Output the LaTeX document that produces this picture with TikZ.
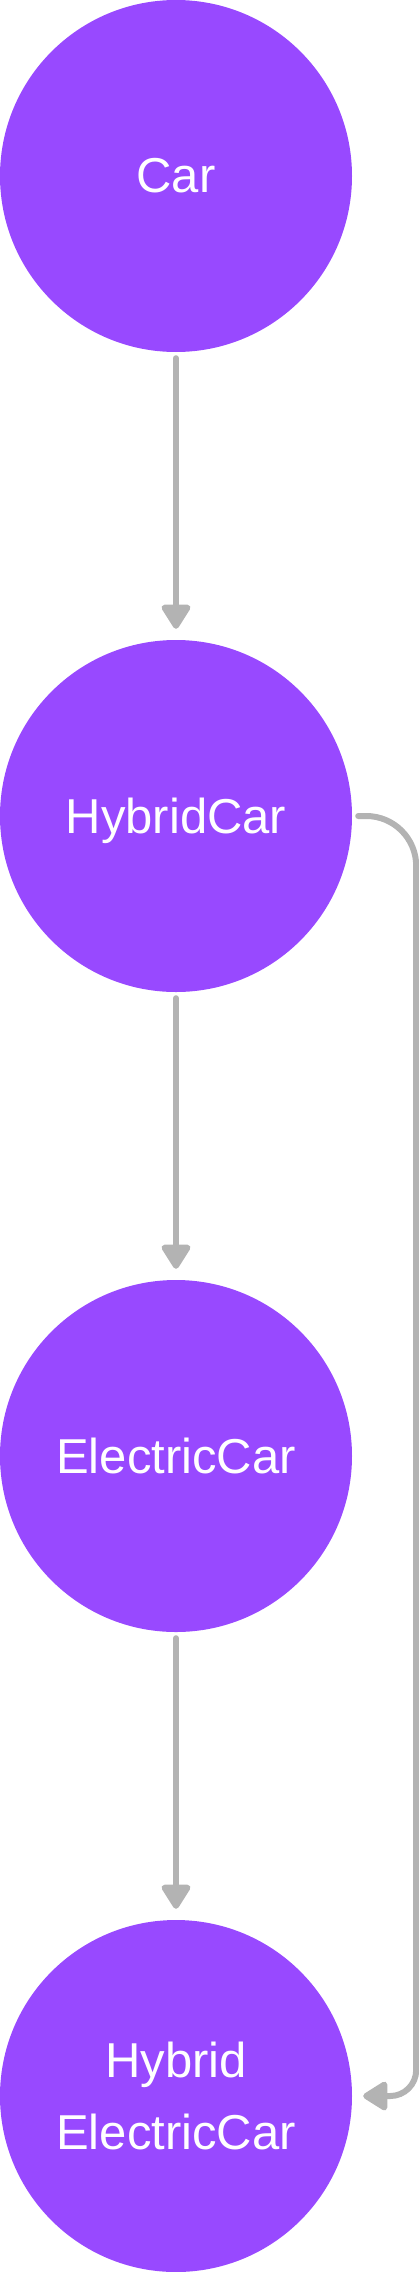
\documentclass[tikz,border=0pt]{standalone}
\usepackage{fontspec}
\setmainfont{Liberation Sans}
\usetikzlibrary{positioning,arrows.meta}
\definecolor{carpurple}{RGB}{152,73,255}
\definecolor{linkgray}{RGB}{179,179,179}

\begin{document}
\begin{tikzpicture}[
        x=1pt, y=-1pt,
        vehicle/.style={circle, fill=carpurple, draw=none, minimum size=352pt, inner sep=0pt, text=white, align=center, font=\fontsize{49}{72}\selectfont},
        flow/.style={-{Triangle[width=32pt, length=27pt, round]}, line width=6pt, draw=linkgray, line cap=round}
    ]
        \useasboundingbox (0,0) rectangle (419,2272);
        \node[vehicle] (car) at (176,176) {Car};
        \node[vehicle, text depth=0pt] (hybrid) at (176,816) {HybridCar};
        \node[vehicle] (electric) at (176,1456) {ElectricCar};
        \node[vehicle] (hybelec) at (176,2096) {Hybrid\\ElectricCar};
        \coordinate (rail) at ([xshift=64pt]hybrid.east);

        \draw[flow, shorten <=6pt, shorten >=11pt] (car) -- (hybrid);
        \draw[flow, shorten <=6pt, shorten >=11pt] (hybrid) -- (electric);
        \draw[flow, shorten <=6pt, shorten >=11pt] (electric) -- (hybelec);
        \draw[flow] ([xshift=6pt]hybrid.east) [rounded corners=50pt] -- (rail) [rounded corners=26pt] -- (rail |- hybelec.east) -- ([xshift=11pt]hybelec.east);
    \end{tikzpicture}
\end{document}
